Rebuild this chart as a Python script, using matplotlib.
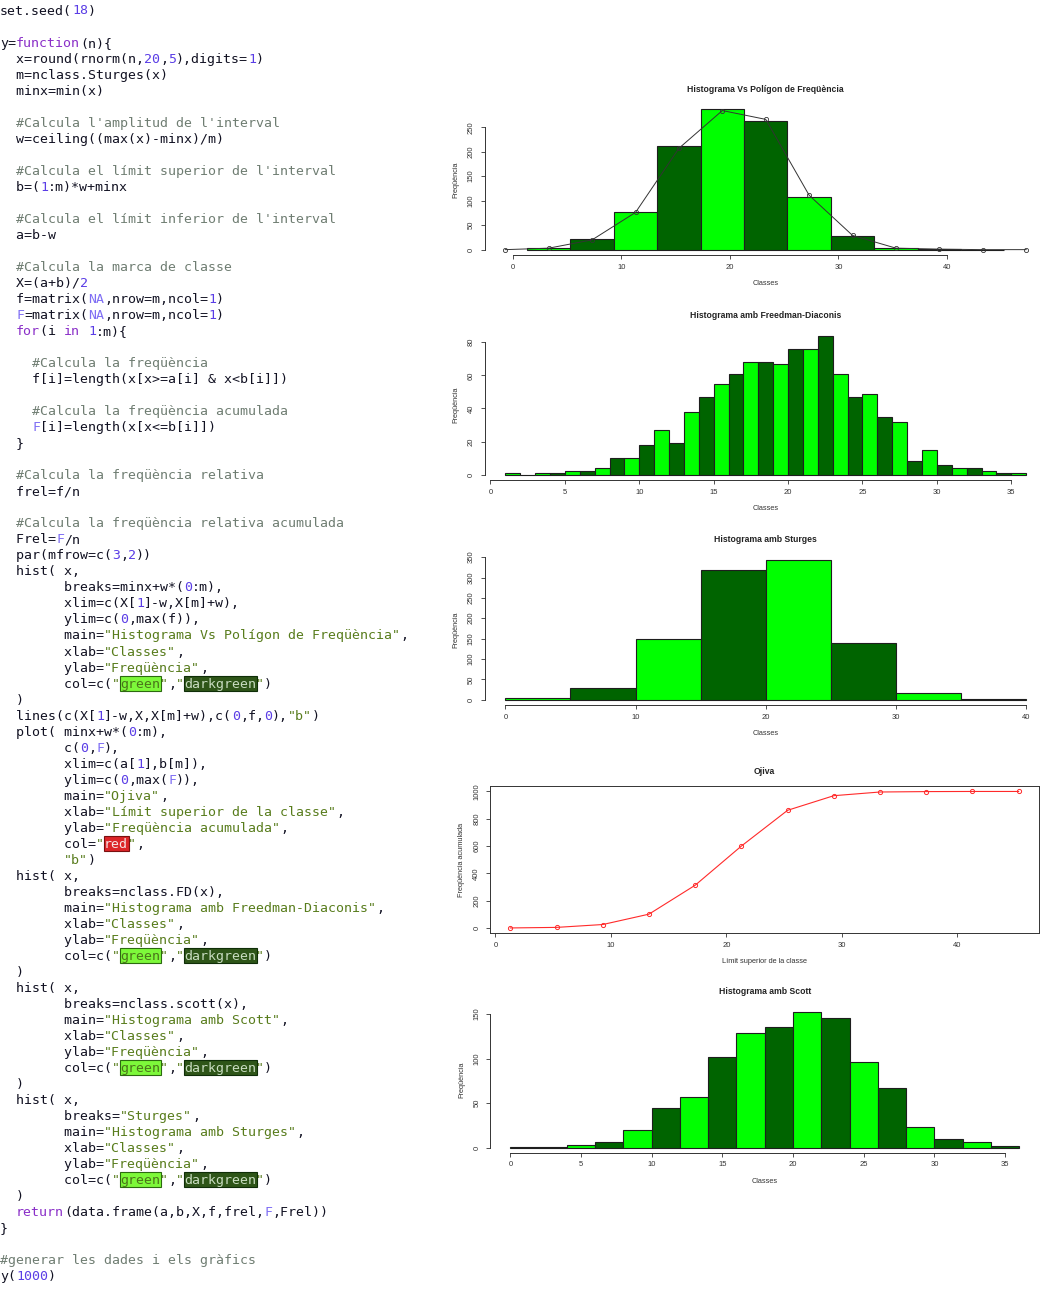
import re
import numpy as np
import matplotlib
matplotlib.use('Agg')
import matplotlib.pyplot as plt
from matplotlib.patches import Rectangle

W, H = 1059, 1295

# ---- data ----
# histogram vs frequency polygon (breaks minx + w*(0:m), w=4)
poly_breaks = [1.3, 5.3, 9.3, 13.3, 17.3, 21.3, 25.3, 29.3, 33.3, 37.3, 41.3, 45.3]
poly_bars = [4, 21, 76, 212, 287, 262, 107, 27, 3, 1, 0]
poly_x = [-0.7, 3.3, 7.3, 11.3, 15.3, 19.3, 23.3, 27.3, 31.3, 35.3, 39.3, 43.3, 47.3]
poly_f = [0, 3, 20, 76, 207, 284, 266, 111, 29, 3, 1, 0, 0]

# ogive: upper class limits and cumulated frequency
ojiva_x = poly_breaks
ojiva_F = [0, 4, 25, 101, 313, 600, 862, 969, 996, 999, 1000, 1000]

# Freedman-Diaconis, width 1 from 1 to 36
fd_breaks = list(range(1, 37))
fd_counts = [1, 0, 1, 1, 2, 2, 4, 10, 10, 18, 27, 19, 38, 47, 55, 61, 68, 68,
             67, 76, 76, 84, 61, 47, 49, 35, 32, 8, 15, 6, 4, 4, 2, 1, 1]

# Sturges, width 5
st_breaks = [0, 5, 10, 15, 20, 25, 30, 35, 40]
st_counts = [3, 28, 149, 319, 344, 139, 17, 1]

# Scott, width 2
sc_breaks = [0, 2, 4, 6, 8, 10, 12, 14, 16, 18, 20, 22, 24, 26, 28, 30, 32, 34, 36]
sc_counts = [1, 1, 3, 6, 20, 45, 57, 102, 129, 135, 152, 145, 96, 67, 23, 10, 6, 2]

code_lines = [
    'set.seed(18)',
    '',
    'y=function(n){',
    '  x=round(rnorm(n,20,5),digits=1)',
    '  m=nclass.Sturges(x)',
    '  minx=min(x)',
    '',
    "  #Calcula l'amplitud de l'interval",
    '  w=ceiling((max(x)-minx)/m)',
    '',
    "  #Calcula el límit superior de l'interval",
    '  b=(1:m)*w+minx',
    '',
    "  #Calcula el límit inferior de l'interval",
    '  a=b-w',
    '',
    '  #Calcula la marca de classe',
    '  X=(a+b)/2',
    '  f=matrix(NA,nrow=m,ncol=1)',
    '  F=matrix(NA,nrow=m,ncol=1)',
    '  for(i in 1:m){',
    '',
    '    #Calcula la freqüència',
    '    f[i]=length(x[x>=a[i] & x<b[i]])',
    '',
    '    #Calcula la freqüència acumulada',
    '    F[i]=length(x[x<=b[i]])',
    '  }',
    '',
    '  #Calcula la freqüència relativa',
    '  frel=f/n',
    '',
    '  #Calcula la freqüència relativa acumulada',
    '  Frel=F/n',
    '  par(mfrow=c(3,2))',
    '  hist( x,',
    '        breaks=minx+w*(0:m),',
    '        xlim=c(X[1]-w,X[m]+w),',
    '        ylim=c(0,max(f)),',
    '        main="Histograma Vs Polígon de Freqüència",',
    '        xlab="Classes",',
    '        ylab="Freqüència",',
    '        col=c("green","darkgreen")',
    '  )',
    '  lines(c(X[1]-w,X,X[m]+w),c(0,f,0),"b")',
    '  plot( minx+w*(0:m),',
    '        c(0,F),',
    '        xlim=c(a[1],b[m]),',
    '        ylim=c(0,max(F)),',
    '        main="Ojiva",',
    '        xlab="Límit superior de la classe",',
    '        ylab="Freqüència acumulada",',
    '        col="red",',
    '        "b")',
    '  hist( x,',
    '        breaks=nclass.FD(x),',
    '        main="Histograma amb Freedman-Diaconis",',
    '        xlab="Classes",',
    '        ylab="Freqüència",',
    '        col=c("green","darkgreen")',
    '  )',
    '  hist( x,',
    '        breaks=nclass.scott(x),',
    '        main="Histograma amb Scott",',
    '        xlab="Classes",',
    '        ylab="Freqüència",',
    '        col=c("green","darkgreen")',
    '  )',
    '  hist( x,',
    '        breaks="Sturges",',
    '        main="Histograma amb Sturges",',
    '        xlab="Classes",',
    '        ylab="Freqüència",',
    '        col=c("green","darkgreen")',
    '  )',
    '  return(data.frame(a,b,X,f,frel,F,Frel))',
    '}',
    '',
    '#generar les dades i els gràfics',
    'y(1000)',
]

# ---- styles ----
GREEN = '#00ff00'
DARK = '#006400'
EDGE = '#1e1e1e'
AXC = '#333333'
SANS = 'Liberation Sans'
MONO = 'DejaVu Sans Mono'

C_DEF = '#111122'
C_COM = '#6f7d72'
C_STR = '#587c1c'
C_NUM = '#5a3de6'
C_KW = '#8a2fc8'
C_CONST = '#7f6ef4'
HILITE = {
    'green': ('#7df83a', '#2c6a10', '#4a741a'),
    'darkgreen': ('#2e5518', '#0f2e08', '#c8dcc0'),
    'red': ('#dc2528', '#7a1010', '#f6e4e4'),
}

fig = plt.figure(figsize=(W / 100, H / 100), dpi=100)


def fx(px):
    return px / W


def fy(py):
    return 1 - py / H


# ---- code listing ----
CW = 8.0
LH = 16.025
FS = CW / (0.602 * 100 / 72)
tok_re = re.compile(r'(?P<com>#.*$)|(?P<str>"[^"]*")|(?P<kw>\b(?:function|for|in|return)\b)'
                    r'|(?P<const>\b(?:NA|F)\b)|(?P<num>\b\d+\b)')


def put(col, yc, s, color):
    if s.strip():
        fig.text(fx(col * CW), fy(yc + 4.5), s, family=MONO, fontsize=FS,
                 color=color, ha='left', va='baseline')


for k, line in enumerate(code_lines):
    yc = 10 + k * LH
    pos = 0
    for m in tok_re.finditer(line):
        if m.start() > pos:
            put(pos, yc, line[pos:m.start()], C_DEF)
        kind = m.lastgroup
        s = m.group()
        if kind == 'str' and s[1:-1] in HILITE:
            bg, ec, tc = HILITE[s[1:-1]]
            word = s[1:-1]
            c0 = m.start() + 1
            fig.add_artist(Rectangle((fx(c0 * CW - 0.5), fy(yc + 7.5)),
                                     (len(word) * CW + 1) / W, 15 / H,
                                     transform=fig.transFigure, facecolor=bg,
                                     edgecolor=ec, linewidth=0.8, zorder=0))
            put(m.start(), yc, '"', C_STR)
            put(c0, yc, word, tc)
            put(m.end() - 1, yc, '"', C_STR)
        else:
            color = {'com': C_COM, 'str': C_STR, 'kw': C_KW,
                     'const': C_CONST, 'num': C_NUM}[kind]
            put(m.start(), yc, s, color)
        pos = m.end()
    if pos < len(line):
        put(pos, yc, line[pos:], C_DEF)


# ---- charts ----
def r_lim(lo, hi):
    d = (hi - lo) * 0.04
    return lo - d, hi + d


def panel(left, top, right, bottom, xlim, ylim, xticks, yticks, title, xlab, ylab, box=False):
    ax = fig.add_axes([fx(left), fy(bottom), (right - left) / W, (bottom - top) / H])
    ax.set_xlim(*r_lim(*xlim))
    ax.set_ylim(*r_lim(*ylim))
    ax.set_xticks(xticks)
    ax.set_yticks(yticks)
    ax.set_xticklabels([str(t) for t in xticks], family=SANS)
    ax.set_yticklabels([str(t) for t in yticks], family=SANS, rotation=90, va='center')
    ax.tick_params(direction='out', length=3, width=0.6, colors=AXC, labelsize=5.5)
    ax.tick_params(axis='x', pad=3)
    ax.tick_params(axis='y', pad=4)
    for sp in ax.spines.values():
        sp.set_color(AXC)
        sp.set_linewidth(0.7)
    if not box:
        ax.spines['top'].set_visible(False)
        ax.spines['right'].set_visible(False)
        ax.spines['left'].set_bounds(yticks[0], yticks[-1])
        ax.spines['bottom'].set_bounds(xticks[0], xticks[-1])
    ax.patch.set_alpha(0)
    cx = (left + right) / 2
    fig.text(fx(cx), fy(top - 15), title, family=SANS, fontsize=6.2, weight='bold',
             color='#222222', ha='center', va='center')
    fig.text(fx(cx), fy(bottom + 28.5), xlab, family=SANS, fontsize=5.3,
             color=AXC, ha='center', va='center')
    fig.text(fx(left - 28.5), fy((top + bottom) / 2), ylab, family=SANS, fontsize=5.3,
             color=AXC, ha='center', va='center', rotation=90)
    return ax


def bars(ax, breaks, counts):
    cols = [GREEN if i % 2 == 0 else DARK for i in range(len(counts))]
    ax.bar(breaks[:-1], counts, width=np.diff(breaks), align='edge', color=cols,
           edgecolor=EDGE, linewidth=0.8)


# 1: histogram vs polygon
ax1 = panel(484.5, 105, 1047, 255.2, (poly_x[0], poly_x[-1]), (0, max(poly_f)),
            [0, 10, 20, 30, 40], [0, 50, 100, 150, 200, 250],
            'Histograma Vs Polígon de Freqüència', 'Classes', 'Freqüència')
bars(ax1, poly_breaks, poly_bars)
ax1.plot(poly_x, poly_f, '-o', color='#333333', lw=0.7, ms=3, mfc='none', mew=0.6)

# 2: Freedman-Diaconis
ax2 = panel(484.5, 330, 1047, 480.3, (fd_breaks[0], fd_breaks[-1]), (0, max(fd_counts)),
            [0, 5, 10, 15, 20, 25, 30, 35], [0, 20, 40, 60, 80],
            'Histograma amb Freedman-Diaconis', 'Classes', 'Freqüència')
bars(ax2, fd_breaks, fd_counts)

# 3: Sturges
ax3 = panel(484.5, 554, 1047, 705.3, (st_breaks[0], st_breaks[-1]), (0, max(st_counts)),
            [0, 10, 20, 30, 40], [0, 50, 100, 150, 200, 250, 300, 350],
            'Histograma amb Sturges', 'Classes', 'Freqüència')
bars(ax3, st_breaks, st_counts)

# 4: ogive
ax4 = panel(490, 786, 1039, 933.4, (ojiva_x[0], ojiva_x[-1]), (0, max(ojiva_F)),
            [0, 10, 20, 30, 40], [0, 200, 400, 600, 800, 1000],
            'Ojiva', 'Límit superior de la classe', 'Freqüència acumulada', box=True)
ax4.plot(ojiva_x, ojiva_F, '-o', color='#ff2a2a', lw=0.8, ms=3, mfc='none', mew=0.7)

# 5: Scott
ax5 = panel(490, 1006.8, 1039.5, 1153.1, (sc_breaks[0], sc_breaks[-1]), (0, max(sc_counts)),
            [0, 5, 10, 15, 20, 25, 30, 35], [0, 50, 100, 150],
            'Histograma amb Scott', 'Classes', 'Freqüència')
bars(ax5, sc_breaks, sc_counts)

fig.savefig('out.png', dpi=100)
